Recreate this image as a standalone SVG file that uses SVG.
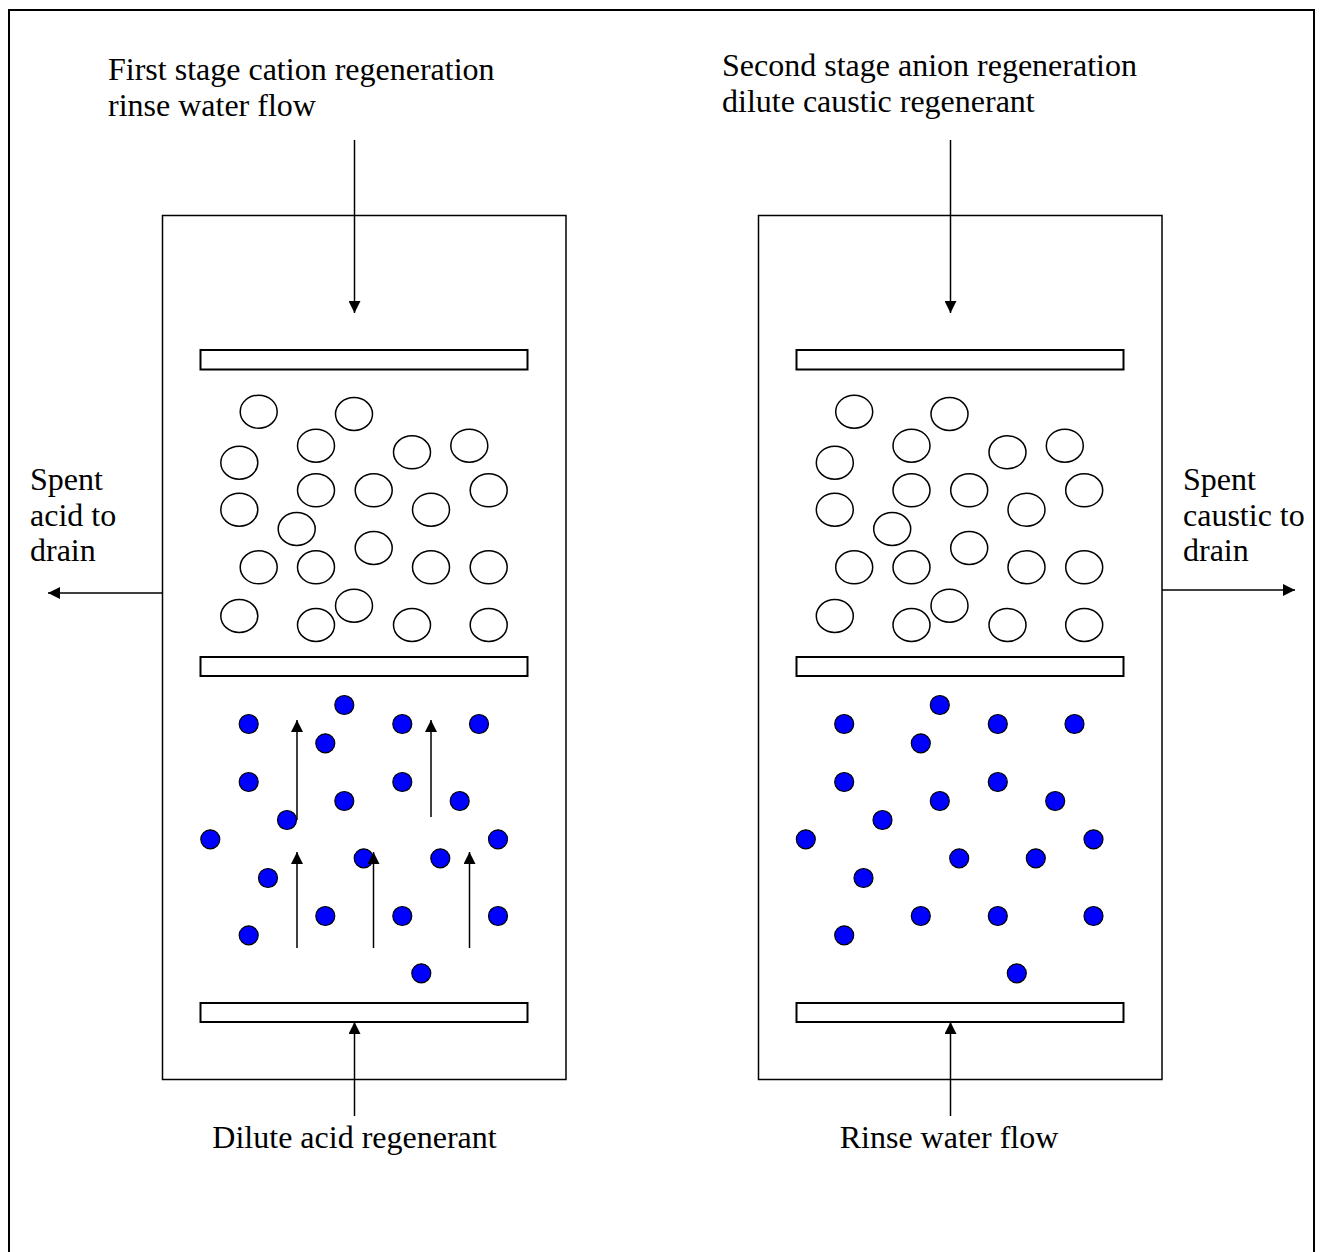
<svg xmlns="http://www.w3.org/2000/svg" width="1320" height="1252" viewBox="0 0 1320 1252">
  <style>
    .frame { fill: none; stroke: #000; stroke-width: 2; }
    .vessel { fill: #fff; stroke: #000; stroke-width: 1.5; }
    .plate { fill: #fff; stroke: #000; stroke-width: 2; }
    .bead { fill: #fff; stroke: #000; stroke-width: 1.5; }
    .dot { fill: #0000ff; stroke: #000; stroke-width: 1.2; }
    .flow { fill: none; stroke: #000; stroke-width: 1.5; marker-end: url(#ah); }
    .lbl { font-family: "Liberation Serif", "Times New Roman", serif; font-size: 32px; fill: #000; }
    .mid { text-anchor: middle; }
  </style>
  <defs>
    <marker id="ah" markerUnits="userSpaceOnUse" markerWidth="12" markerHeight="12" refX="12" refY="6" orient="auto">
      <path d="M0,0 L12,6 L0,12 z" fill="#000"/>
    </marker>
    <g id="beads">
      <ellipse class="bead" cx="258.7" cy="411.7" rx="18.5" ry="16.5"/>
      <ellipse class="bead" cx="354" cy="414" rx="18.5" ry="16.5"/>
      <ellipse class="bead" cx="316" cy="445.7" rx="18.5" ry="16.5"/>
      <ellipse class="bead" cx="412" cy="452.3" rx="18.5" ry="16.5"/>
      <ellipse class="bead" cx="469.3" cy="445.7" rx="18.5" ry="16.5"/>
      <ellipse class="bead" cx="239.3" cy="462.7" rx="18.5" ry="16.5"/>
      <ellipse class="bead" cx="316" cy="490.3" rx="18.5" ry="16.5"/>
      <ellipse class="bead" cx="373.7" cy="490.3" rx="18.5" ry="16.5"/>
      <ellipse class="bead" cx="488.7" cy="490.3" rx="18.5" ry="16.5"/>
      <ellipse class="bead" cx="431" cy="509.7" rx="18.5" ry="16.5"/>
      <ellipse class="bead" cx="239.3" cy="509.7" rx="18.5" ry="16.5"/>
      <ellipse class="bead" cx="296.7" cy="529" rx="18.5" ry="16.5"/>
      <ellipse class="bead" cx="373.7" cy="548" rx="18.5" ry="16.5"/>
      <ellipse class="bead" cx="258.7" cy="567.3" rx="18.5" ry="16.5"/>
      <ellipse class="bead" cx="316" cy="567.3" rx="18.5" ry="16.5"/>
      <ellipse class="bead" cx="431" cy="567.3" rx="18.5" ry="16.5"/>
      <ellipse class="bead" cx="488.7" cy="567.3" rx="18.5" ry="16.5"/>
      <ellipse class="bead" cx="239.3" cy="616" rx="18.5" ry="16.5"/>
      <ellipse class="bead" cx="316" cy="625" rx="18.5" ry="16.5"/>
      <ellipse class="bead" cx="354" cy="605.7" rx="18.5" ry="16.5"/>
      <ellipse class="bead" cx="412" cy="625" rx="18.5" ry="16.5"/>
      <ellipse class="bead" cx="488.7" cy="625" rx="18.5" ry="16.5"/>
    </g>
    <g id="dots">
      <circle class="dot" cx="344.3" cy="705" r="9.5"/>
      <circle class="dot" cx="248.7" cy="724" r="9.5"/>
      <circle class="dot" cx="402.3" cy="724" r="9.5"/>
      <circle class="dot" cx="479" cy="724" r="9.5"/>
      <circle class="dot" cx="325.3" cy="743.3" r="9.5"/>
      <circle class="dot" cx="248.7" cy="782" r="9.5"/>
      <circle class="dot" cx="402.3" cy="782" r="9.5"/>
      <circle class="dot" cx="344.3" cy="801" r="9.5"/>
      <circle class="dot" cx="459.7" cy="801" r="9.5"/>
      <circle class="dot" cx="287" cy="820" r="9.5"/>
      <circle class="dot" cx="210.3" cy="839.3" r="9.5"/>
      <circle class="dot" cx="498" cy="839.3" r="9.5"/>
      <circle class="dot" cx="363.7" cy="858.3" r="9.5"/>
      <circle class="dot" cx="440.3" cy="858.3" r="9.5"/>
      <circle class="dot" cx="268" cy="878" r="9.5"/>
      <circle class="dot" cx="325.3" cy="916" r="9.5"/>
      <circle class="dot" cx="402.3" cy="916" r="9.5"/>
      <circle class="dot" cx="498" cy="916" r="9.5"/>
      <circle class="dot" cx="248.7" cy="935.3" r="9.5"/>
      <circle class="dot" cx="421.3" cy="973.3" r="9.5"/>
    </g>
  </defs>

  <rect id="frame" class="frame" x="9" y="10" width="1305" height="1262"/>

  <g id="vessel-left">
    <rect class="vessel" x="162.5" y="215.5" width="403.5" height="864"/>
    <rect class="plate" x="200.5" y="350" width="327" height="19.5"/>
    <rect class="plate" x="200.5" y="657" width="327" height="19"/>
    <rect class="plate" x="200.5" y="1003" width="327" height="19"/>
    <use href="#beads"/>
    <use href="#dots"/>
  </g>

  <g id="vessel-right">
    <rect class="vessel" x="758.5" y="215.5" width="403.5" height="864"/>
    <rect class="plate" x="796.5" y="350" width="327" height="19.5"/>
    <rect class="plate" x="796.5" y="657" width="327" height="19"/>
    <rect class="plate" x="796.5" y="1003" width="327" height="19"/>
    <use href="#beads" transform="translate(595.5,0)"/>
    <use href="#dots" transform="translate(595.5,0)"/>
  </g>

  <g id="connectors">
    <line class="flow" x1="354.5" y1="140" x2="354.5" y2="313"/>
    <line class="flow" x1="950.5" y1="140" x2="950.5" y2="313"/>
    <line class="flow" x1="354.5" y1="1116" x2="354.5" y2="1022"/>
    <line class="flow" x1="950.5" y1="1116" x2="950.5" y2="1022"/>
    <line class="flow" x1="162" y1="593" x2="48" y2="593"/>
    <line class="flow" x1="1162" y1="590" x2="1295" y2="590"/>
    <line class="flow" x1="297" y1="820" x2="297" y2="720"/>
    <line class="flow" x1="431" y1="817" x2="431" y2="720"/>
    <line class="flow" x1="297" y1="948" x2="297" y2="852"/>
    <line class="flow" x1="373.5" y1="948" x2="373.5" y2="852"/>
    <line class="flow" x1="469.5" y1="948" x2="469.5" y2="852"/>
  </g>

  <g id="labels">
    <text class="lbl" x="108" y="80">First stage cation regeneration</text>
    <text class="lbl" x="108" y="116">rinse water flow</text>
    <text class="lbl" x="722" y="76">Second stage anion regeneration</text>
    <text class="lbl" x="722" y="112">dilute caustic regenerant</text>
    <text class="lbl" x="30" y="490">Spent</text>
    <text class="lbl" x="30" y="526">acid to</text>
    <text class="lbl" x="30" y="561">drain</text>
    <text class="lbl" x="1183" y="490">Spent</text>
    <text class="lbl" x="1183" y="526">caustic to</text>
    <text class="lbl" x="1183" y="561">drain</text>
    <text class="lbl mid" x="354.5" y="1148">Dilute acid regenerant</text>
    <text class="lbl mid" x="949" y="1148">Rinse water flow</text>
  </g>
</svg>
